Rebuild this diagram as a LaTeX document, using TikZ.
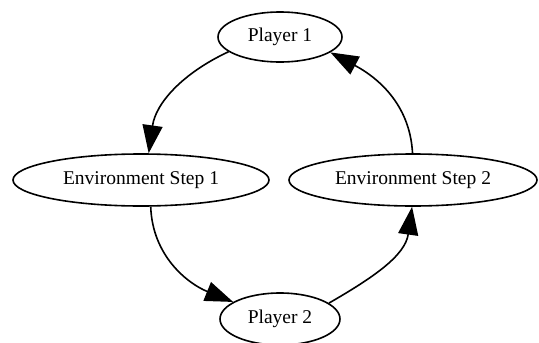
\documentclass[tikz,border=0pt]{standalone}
\usepackage{fontspec}
\setmainfont{Liberation Serif}
\usepackage{tikz}
\usetikzlibrary{shapes.geometric, arrows.meta, positioning}

\begin{document}
\begin{tikzpicture}[x=1pt, y=-1pt,
    state/.style={draw, ellipse, line width=1.6pt, inner sep=0pt,
        font=\fontsize{19.5}{23}\selectfont},
    flow/.style={line width=1.6pt, -{Triangle[length=28pt, width=20pt]}}]
    % Canvas
    \useasboundingbox (0,0) rectangle (539,343);

    % Players
    \node[state, minimum width=124pt, minimum height=50pt] (p1) at (280,37) {Player 1};
    \node[state, minimum width=120pt, minimum height=52pt] (p2) at (280,319) {Player 2};

    % Environment steps
    \node[state, minimum width=256pt, minimum height=52pt] (env1) at (141,180) {Environment Step 1};
    \node[state, minimum width=248pt, minimum height=52pt] (env2) at (413,180) {Environment Step 2};

    % Cycle of turns
    \draw[flow] (p1.196) to[out=205, in=82] (env1.74);
    \draw[flow] (env1.-70) to[out=-88, in=158] (p2.160);
    \draw[flow] (p2.18) to[out=30, in=-98] (env2.-92);
    \draw[flow] (env2.91) to[out=93, in=-28] (p1.-17);
\end{tikzpicture}
\end{document}
